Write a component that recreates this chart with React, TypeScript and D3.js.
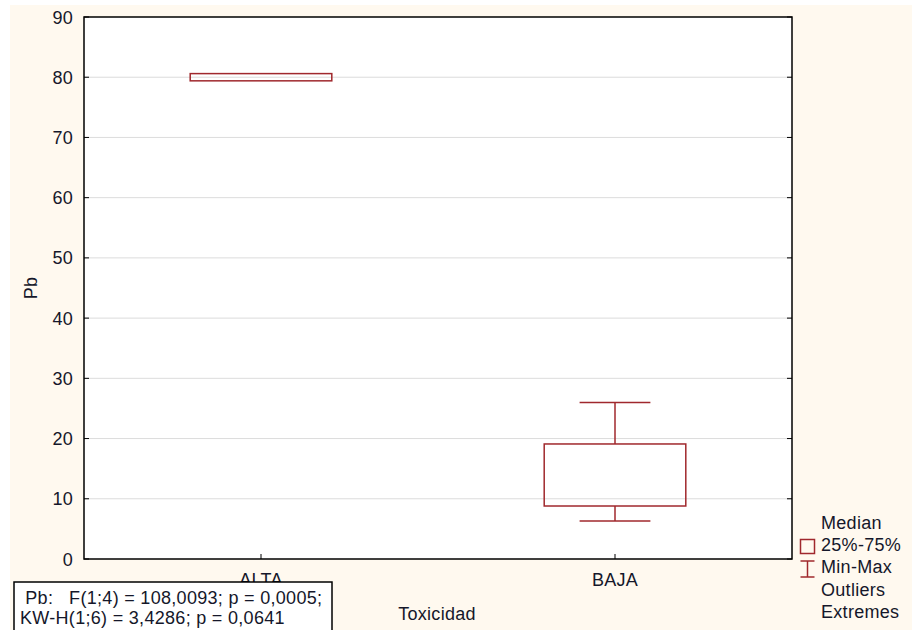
import React, { useEffect, useRef } from 'react';
import * as d3 from 'd3';

const categories = ['ALTA', 'BAJA'];
const q1 = [79.4, 8.8];
const q3 = [80.6, 19.1];
const mins = [79.4, 6.3];
const maxs = [80.6, 26.0];
const yTicks = [0, 10, 20, 30, 40, 50, 60, 70, 80, 90];
const statLines = [' Pb:   F(1;4) = 108,0093; p = 0,0005;', 'KW-H(1;6) = 3,4286; p = 0,0641'];
const legendLabels = ['Median', '25%-75%', 'Min-Max', 'Outliers', 'Extremes'];

const W = 912;
const H = 630;
const boxColor = '#a0282d';
const txtColor = '#15172a';
const font = 'Liberation Sans, Arial, sans-serif';
const fs = 18;
const ls = 0.3;

const App: React.FC = () => {
  const svgRef = useRef<SVGSVGElement | null>(null);

  useEffect(() => {
    const svg = d3.select(svgRef.current);
    svg.selectAll('*').remove();

    const left = 84, right = 792, top = 17, bottom = 559;

    svg.append('rect').attr('x', 10).attr('y', 5).attr('width', W - 10).attr('height', H - 5).attr('fill', '#fff9ef');

    const x = d3.scaleBand().domain(categories).range([left, right]);
    const y = d3.scaleLinear().domain([0, 90]).range([bottom, top]);

    svg.append('rect').attr('x', left).attr('y', top).attr('width', right - left).attr('height', bottom - top).attr('fill', '#fff');

    const txt = (sel: any) =>
      sel.attr('font-family', font).attr('font-size', fs).attr('letter-spacing', ls).attr('fill', txtColor);

    // grid
    svg.append('g').selectAll('line').data(yTicks.slice(1, -1)).enter().append('line')
      .attr('x1', left).attr('x2', right)
      .attr('y1', (d) => y(d)).attr('y2', (d) => y(d))
      .attr('stroke', '#dcdcdc').attr('stroke-width', 1);

    // y ticks
    const yt = svg.append('g');
    yt.selectAll('text').data(yTicks).enter().append('text')
      .attr('x', 73).attr('y', (d) => y(d) + 6.5)
      .attr('text-anchor', 'end').call(txt)
      .text((d) => d);
    yt.selectAll('line.l').data(yTicks).enter().append('line')
      .attr('x1', left).attr('x2', left + 5).attr('y1', (d) => y(d)).attr('y2', (d) => y(d))
      .attr('stroke', '#000');
    yt.selectAll('line.r').data(yTicks).enter().append('line')
      .attr('x1', right - 5).attr('x2', right).attr('y1', (d) => y(d)).attr('y2', (d) => y(d))
      .attr('stroke', '#000');

    // x ticks
    const cx = (c: string) => (x(c) as number) + x.bandwidth() / 2;
    svg.append('g').selectAll('line').data(categories).enter().append('line')
      .attr('x1', cx).attr('x2', cx).attr('y1', bottom).attr('y2', bottom - 5).attr('stroke', '#000');

    // boxes
    const bw = x.bandwidth() * 0.4;
    const g = svg.append('g');
    categories.forEach((c, i) => {
      const m = cx(c);
      if (maxs[i] > q3[i]) {
        g.append('line').attr('x1', m).attr('x2', m).attr('y1', y(q3[i])).attr('y2', y(maxs[i])).attr('stroke', boxColor).attr('stroke-width', 1.5);
        g.append('line').attr('x1', m - bw / 4).attr('x2', m + bw / 4).attr('y1', y(maxs[i])).attr('y2', y(maxs[i])).attr('stroke', boxColor).attr('stroke-width', 1.5);
      }
      if (mins[i] < q1[i]) {
        g.append('line').attr('x1', m).attr('x2', m).attr('y1', y(q1[i])).attr('y2', y(mins[i])).attr('stroke', boxColor).attr('stroke-width', 1.5);
        g.append('line').attr('x1', m - bw / 4).attr('x2', m + bw / 4).attr('y1', y(mins[i])).attr('y2', y(mins[i])).attr('stroke', boxColor).attr('stroke-width', 1.5);
      }
      g.append('rect').attr('x', m - bw / 2).attr('y', y(q3[i])).attr('width', bw).attr('height', y(q1[i]) - y(q3[i]))
        .attr('fill', 'none').attr('stroke', boxColor).attr('stroke-width', 1.5);
    });

    // frame
    svg.append('rect').attr('x', left).attr('y', top).attr('width', right - left).attr('height', bottom - top)
      .attr('fill', 'none').attr('stroke', '#000').attr('stroke-width', 1.5);

    // category labels
    svg.append('g').selectAll('text').data(categories).enter().append('text')
      .attr('x', cx).attr('y', 586).attr('text-anchor', 'middle')
      .call(txt).text((d) => d);

    svg.append('text').attr('x', 437).attr('y', 620).attr('text-anchor', 'middle')
      .call(txt).text('Toxicidad');

    svg.append('text').attr('transform', 'translate(37,288) rotate(-90)').attr('text-anchor', 'middle')
      .call(txt).text('Pb');

    // stats box
    svg.append('rect').attr('x', 14).attr('y', 582).attr('width', 318).attr('height', 52)
      .attr('fill', '#fff').attr('stroke', '#000').attr('stroke-width', 1.5);
    svg.append('g').selectAll('text').data(statLines).enter().append('text')
      .attr('x', 20).attr('y', (_, i) => 604 + i * 19.5)
      .call(txt)
      .attr('xml:space', 'preserve').style('white-space', 'pre').text((d) => d);

    // legend
    const lg = svg.append('g');
    lg.selectAll('text').data(legendLabels).enter().append('text')
      .attr('x', 821).attr('y', (_, i) => 529 + i * 22.2)
      .call(txt).text((d) => d);
    lg.append('rect').attr('x', 800.5).attr('y', 539.5).attr('width', 14).attr('height', 14)
      .attr('fill', 'none').attr('stroke', boxColor).attr('stroke-width', 1.5);
    lg.append('line').attr('x1', 807.5).attr('x2', 807.5).attr('y1', 561).attr('y2', 577).attr('stroke', boxColor).attr('stroke-width', 1.5);
    lg.append('line').attr('x1', 800.5).attr('x2', 814.5).attr('y1', 561).attr('y2', 561).attr('stroke', boxColor).attr('stroke-width', 1.5);
    lg.append('line').attr('x1', 800.5).attr('x2', 814.5).attr('y1', 577).attr('y2', 577).attr('stroke', boxColor).attr('stroke-width', 1.5);
  }, []);

  return (
    <svg ref={svgRef} width={W} height={H} style={{ position: 'absolute', left: 0, top: 0, display: 'block' }} />
  );
};

export default App;
